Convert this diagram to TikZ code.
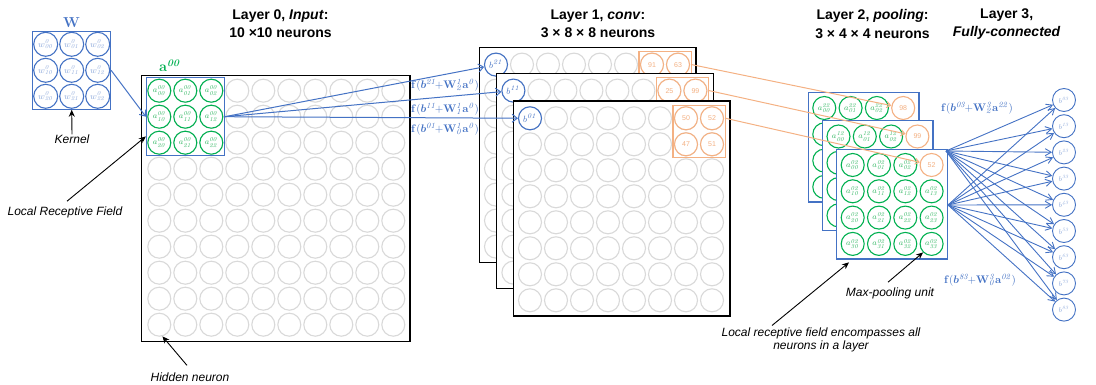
\documentclass[tikz,border=0pt]{standalone}
\usepackage[no-math]{fontspec}
\usepackage{bm}
\setmainfont{Liberation Sans}
\usetikzlibrary{arrows.meta,calc,fit}
\definecolor{bblue}{HTML}{4472C4}
\definecolor{lblue}{HTML}{8FAADC}
\definecolor{bgreen}{HTML}{00B050}
\definecolor{lgreen}{HTML}{33B864}
\definecolor{orng}{HTML}{F4B183}
\definecolor{gry}{HTML}{D9D9D9}
\newcommand{\myfs}[1]{\fontsize{#1}{#1}\selectfont}
\newcommand{\fml}[4]{$\mathbf{f(}\bm{b}^{\mathit{#1}}\!{\mathbf{+}}\mathbf{W}^{\mathit{#2}}_{\mathit{#3}}\mathbf{a}^{\mathit{#4}}\mathbf{)}$}
\begin{document}
\begin{tikzpicture}[x=1pt,y=-1pt,
  cellbase/.style={circle,minimum size=23pt,inner sep=0pt,line width=1.1pt,fill=white},
  gcell/.style={cellbase,draw=gry},
  ncell/.style={cellbase,draw=bgreen,text=lgreen,font=\myfs{8.5}},
  wcell/.style={cellbase,draw=bblue,text=lblue,font=\myfs{9},minimum size=24pt},
  ocell/.style={cellbase,draw=orng,text=orng,font=\myfs{7}},
  bcell/.style={cellbase,draw=bblue,text=bblue,font=\myfs{9.5}},
  lthree/.style={cellbase,draw=bblue,line width=0.9pt,text=lblue,font=\myfs{7}},
  layerbox/.style={draw=black,line width=1.3pt,fill=white,inner sep=0pt},
  poolbox/.style={draw=bblue,line width=1.3pt,fill=white,inner sep=0pt},
  barrow/.style={draw=bblue,line width=1pt,-{Straight Barb[length=5pt,width=8pt]}},
  farrow/.style={draw=bblue,line width=0.9pt,-{Straight Barb[length=6pt,width=7pt]}},
  oarrow/.style={draw=orng,line width=1pt,-{Straight Barb[length=4pt,width=6pt]}},
  karrow/.style={draw=black,line width=0.9pt,-{Stealth[length=7pt,width=6pt]}},
  title/.style={font=\fontsize{14}{18.3}\selectfont\bfseries,align=center,inner sep=0pt},
  note/.style={font=\fontsize{12}{13.4}\selectfont\itshape,align=center,inner sep=0pt},
  formula/.style={text=bblue,font=\myfs{11},inner sep=0pt},
]
\useasboundingbox (0,0) rectangle (1096,385);

% ---------- titles
\node[title] (T0) at (280.5,24) {Layer 0, \textit{Input}:\\10 ×10 neurons};
\node[title] (T1) at (598,24) {Layer 1, \textit{conv}:\\3 × 8 × 8 neurons};
\node[title] (T2) at (872.5,24) {Layer 2, \textit{pooling}:\\3 × 4 × 4 neurons};
\node[title] (T3) at (1006.7,24) {Layer 3,\\\textit{Fully-connected}};

% ---------- kernel
\node[text=bblue,font=\myfs{14}\boldmath,inner sep=0pt] (Wl) at (71.7,22.7) {$\mathbf{W}$};
\foreach \i in {0,1,2}{\foreach \j in {0,1,2}{
  \node[wcell] (K-\i-\j) at ({45.7+26*\i},{44.3+26*\j}) {$w^{\mathit{0}}_{\mathit{\j\i}}$};}}
\node[draw=bblue,line width=1.2pt,inner sep=0.3pt,fit=(K-0-0)(K-2-2)] (K) {};

% ---------- layer 0
\node[layerbox,minimum width=268.3pt,minimum height=266pt] (L0) at (275.85,208.7) {};
\foreach \i in {0,...,9}{\foreach \j in {0,...,9}{
  \node[gcell] (L0-\i-\j) at ({159.3+26*\i},{90.7+26*\j}) {};}}
\foreach \i in {0,1,2}{\foreach \j in {0,1,2}{
  \node[ncell] (A-\i-\j) at ({159.3+26*\i},{90.7+26*\j}) {$a^{\mathit{00}}_{\mathit{\j\i}}$};}}
\node[draw=bblue,line width=1.2pt,inner sep=0.8pt,fit=(A-0-0)(A-2-2)] (rf) {};
\node[text=bgreen,font=\myfs{14}\boldmath,inner sep=0pt] (al) at (170,66) {$\mathbf{a}^{\mathit{00}}$};

% ---------- layer 1
\foreach \k/\bx/\by/\va/\vb/\vc/\vd in {2/479.3/47.3/91/63/{}/{},1/496.7/73.3/25/99/{}/{},0/513.3/101/50/52/47/51}{
  \node[layerbox,minimum width=216.7pt,minimum height=215pt] (L1-\k) at ({\bx+108.35},{\by+107.5}) {};
  \foreach \i in {0,...,7}{\foreach \j in {0,...,7}{
    \node[gcell] (L1-\k-\i-\j) at ({\bx+16.7+26*\i},{\by+17.3+26*\j}) {};}}
  \node[bcell] (B-\k) at ({\bx+16.7},{\by+17.3}) {$b^{\mathit{\k1}}$};
  \node[ocell] (O-\k-0) at ({\bx+172.7},{\by+17.3}) {\va};
  \node[ocell] (O-\k-1) at ({\bx+198.7},{\by+17.3}) {\vb};
  \node[ocell] (O-\k-2) at ({\bx+172.7},{\by+43.3}) {\vc};
  \node[ocell] (O-\k-3) at ({\bx+198.7},{\by+43.3}) {\vd};
  \node[draw=orng,line width=1.1pt,inner sep=1pt,fit=(O-\k-0)(O-\k-3)] (OB-\k) {};
}

% ---------- layer 2 (back layers: only the visible top row carries labels)
\foreach \k/\bx/\by/\nn in {2/808.3/92.3/98,1/822.5/120.8/99}{
  \node[poolbox,minimum width=110.6pt,minimum height=109.7pt] (L2-\k) at ({\bx+55.3},{\by+54.85}) {};
  \foreach \i in {0,...,3}{\foreach \j in {1,...,3}{
    \node[ncell] (P-\k-\i-\j) at ({\bx+16+26.3*\i},{\by+15.7+26.3*\j}) {};}}
  \foreach \i in {0,1,2}{
    \node[ncell] (P-\k-\i-0) at ({\bx+16+26.3*\i},{\by+15.7}) {$a^{\mathit{\k2}}_{\mathit{0\i}}$};}
  \node[ocell] (Q-\k) at ({\bx+94.9},{\by+15.7}) {\nn};
}
\node[poolbox,minimum width=110.6pt,minimum height=109.7pt] (L2-0) at (892,204.15) {};
\foreach \i in {0,...,3}{\foreach \j in {0,...,3}{
  \ifnum\i\j=30\else
  \node[ncell] (P-0-\i-\j) at ({852.7+26.3*\i},{165+26.3*\j}) {$a^{\mathit{02}}_{\mathit{\j\i}}$};
  \fi}}
\node[ocell] (Q-0) at (931.6,165) {52};

% ---------- layer 3
\foreach \k in {0,...,8}{
  \node[lthree] (R-\k) at (1064,{100+26.2*\k}) {$b^{\mathit{\k3}}$};}

% ---------- connectors
\draw[barrow] (K.east) -- (rf.west);
\draw[barrow] (rf.east) -- (B-2);
\draw[barrow] (rf.east) -- (B-1);
\draw[barrow] (rf.east) -- (B-0);
\foreach \k in {0,1,2}{\draw[oarrow] (OB-\k.east |- O-\k-1) -- (Q-\k);}
\coordinate (P1) at (946,151);
\coordinate (P2) at (948,205);
\foreach \k in {0,...,8}{\draw[farrow] (P1) -- (R-\k); \draw[farrow] (P2) -- (R-\k);}

% ---------- formulas
\node[formula] (fA) at (445,85) {\fml{21}{1}{2}{0}};
\node[formula] (fB) at (445,109) {\fml{11}{1}{1}{0}};
\node[formula] (fC) at (445,129) {\fml{01}{1}{0}{0}};
\node[formula] (fD) at (977,108) {\fml{03}{3}{2}{22}};
\node[formula] (fE) at (980,280) {\fml{83}{3}{0}{02}};

% ---------- notes
\node[note] (kl) at (72,139) {Kernel};
\draw[karrow] (kl.north) -- (K.south);
\node[note] (lrfl) at (65,212) {Local Receptive Field};
\draw[karrow] ($(lrfl.north)+(2,-5)$) -- ($(rf.south west)!0.25!(rf.north west)$);
\node[note] (hnl) at (190,377) {Hidden neuron};
\draw[karrow] ($(hnl.north)+(-3,-7)$) -- (L0-0-9.-75);
\node[note] (mpl) at (890,293) {Max-pooling unit};
\draw[karrow] ($(mpl.north)+(-2,-5)$) -- (P-0-3-3.south west);
\node[note] (lrf2) at (821,340) {Local receptive field encompasses all\\neurons in a layer};
\draw[karrow] ($(lrf2.north)+(-49,-2)$) -- ($(L2-0.south west)+(13,2.7)$);
\end{tikzpicture}
\end{document}
